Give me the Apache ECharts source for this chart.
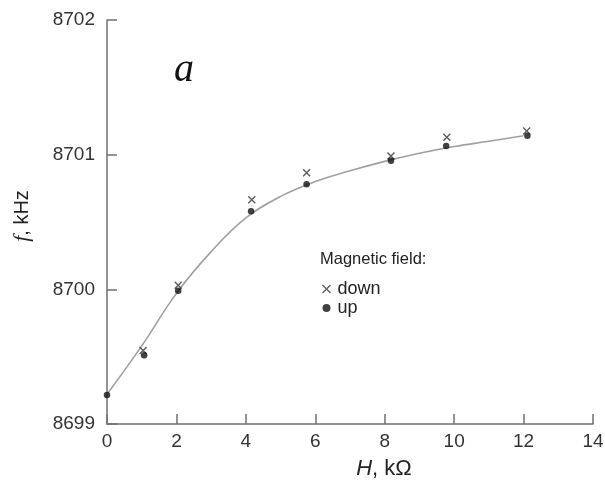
<!DOCTYPE html>
<html>
<head>
<meta charset="utf-8">
<script src="https://cdn.jsdelivr.net/npm/echarts@6/dist/echarts.min.js"></script>
<style>
  html, body { margin: 0; padding: 0; background: #fff; }
  #chart { width: 605px; height: 487px; }
</style>
</head>
<body>
<div id="chart"></div>
<script>
// Resistance H (kΩ) and resonance frequency f (kHz)
const fieldUpH = [0, 1.07, 2.05, 4.15, 5.75, 8.18, 9.77, 12.11];
const fieldUpF = [8699.215, 8699.51, 8699.99, 8700.58, 8700.78, 8700.955, 8701.064, 8701.14];

const fieldDownH = [1.04, 2.05, 4.17, 5.75, 8.18, 9.79, 12.09];
const fieldDownF = [8699.545, 8700.03, 8700.665, 8700.866, 8700.99, 8701.13, 8701.175];

// Fitted trend curve
const fitH = [0, 1, 2, 3, 4, 5, 6, 7, 8, 9, 10, 11, 12];
const fitF = [8699.22, 8699.58, 8699.97, 8700.28, 8700.53, 8700.69, 8700.80, 8700.88, 8700.95, 8701.01, 8701.06, 8701.10, 8701.14];

const xTicks = [0, 2, 4, 6, 8, 10, 12, 14];
const yTicks = [8699, 8700, 8701, 8702];

const zip = (xs, ys) => xs.map((x, i) => [x, ys[i]]);

const crossPath = 'path://M0,0L10,10M10,0L0,10';
const sans = 'Arial, "Liberation Sans", sans-serif';
const serif = '"Times New Roman", "Liberation Serif", serif';

const chart = echarts.init(document.getElementById('chart'), null, { renderer: 'canvas' });

chart.setOption({
  backgroundColor: '#ffffff',
  animation: false,
  grid: { left: 107, right: 12, top: 20, bottom: 63, containLabel: false, outerBoundsMode: 'none' },
  xAxis: {
    type: 'value',
    min: xTicks[0],
    max: xTicks[xTicks.length - 1],
    interval: 2,
    axisLine: { show: true, onZero: false, lineStyle: { color: '#707070', width: 1.5 } },
    axisTick: { show: true, inside: true, length: 10, lineStyle: { color: '#707070', width: 1.5 } },
    axisLabel: { color: '#333', fontSize: 19, fontFamily: sans, margin: 8, formatter: v => String(v) },
    splitLine: { show: false },
    name: '{i|H}, kΩ',
    nameLocation: 'middle',
    nameGap: 34,
    nameTextStyle: {
      color: '#222', fontSize: 22, fontFamily: sans,
      padding: [0, 0, 0, 68],
      rich: { i: { fontStyle: 'italic', fontSize: 22, fontFamily: sans, color: '#222' } }
    }
  },
  yAxis: {
    type: 'value',
    min: yTicks[0],
    max: yTicks[yTicks.length - 1],
    interval: 1,
    axisLine: { show: true, onZero: false, lineStyle: { color: '#707070', width: 1.5 } },
    axisTick: { show: true, inside: true, length: 10, lineStyle: { color: '#707070', width: 1.5 } },
    axisLabel: { color: '#333', fontSize: 19, fontFamily: sans, margin: 12, formatter: v => String(v) },
    splitLine: { show: false },
    name: '{i|f}, kHz',
    nameLocation: 'middle',
    nameGap: 74,
    nameRotate: 90,
    nameTextStyle: {
      color: '#222', fontSize: 20, fontFamily: sans,
      padding: [0, 0, 0, 12],
      rich: { i: { fontStyle: 'italic', fontSize: 22, fontFamily: serif, color: '#222' } }
    }
  },
  legend: {
    orient: 'vertical',
    left: 315,
    top: 275,
    itemGap: 1,
    itemWidth: 8,
    itemHeight: 8,
    textStyle: { color: '#222', fontSize: 18, fontFamily: sans, padding: [0, 0, 0, 2] },
    data: [
      { name: 'down', icon: crossPath, itemStyle: { color: 'none', borderColor: '#333', borderWidth: 1.3 } },
      { name: 'up', icon: 'circle', itemStyle: { color: '#111' } }
    ]
  },
  graphic: [
    {
      type: 'text', left: 320, top: 251,
      style: { text: 'Magnetic field:', fill: '#222', fontSize: 16.5, fontFamily: sans }
    },
    {
      type: 'text', left: 174, top: 50,
      style: { text: 'a', fill: '#111', fontSize: 40, fontStyle: 'italic', fontFamily: serif }
    }
  ],
  series: [
    {
      name: 'fit',
      type: 'line',
      data: zip(fitH, fitF),
      smooth: 0.4,
      showSymbol: false,
      symbol: 'none',
      lineStyle: { color: '#a0a0a0', width: 1.6 },
      z: 1
    },
    {
      name: 'down',
      type: 'scatter',
      data: zip(fieldDownH, fieldDownF),
      symbol: crossPath,
      symbolSize: 7,
      itemStyle: { color: 'none', borderColor: '#333', borderWidth: 1.4 },
      z: 3
    },
    {
      name: 'up',
      type: 'scatter',
      data: zip(fieldUpH, fieldUpF),
      symbol: 'circle',
      symbolSize: 6.5,
      itemStyle: { color: '#111' },
      z: 4
    }
  ]
});
</script>
</body>
</html>
